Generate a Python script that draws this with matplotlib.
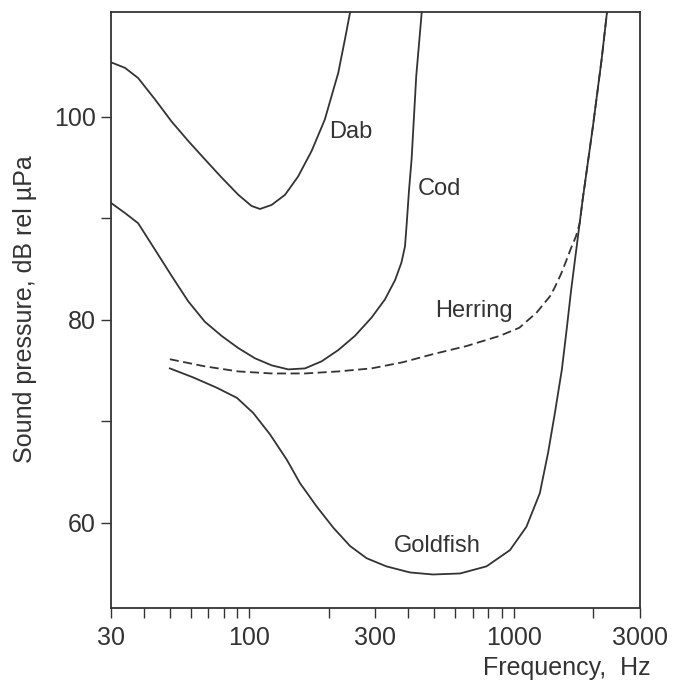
import matplotlib
matplotlib.use("Agg")
import matplotlib.pyplot as plt
from matplotlib.ticker import NullFormatter

plt.rcParams['font.family'] = ['Liberation Sans', 'DejaVu Sans']

# Hoerschwellen (Frequenz in Hz, Schalldruck in dB rel uPa)
dab_f = [30, 33.9, 38.0, 44.0, 50.9, 58.8, 67.9, 78.6, 90.9, 102, 109.8, 121.5,
         136.6, 153, 172, 193, 217, 230, 240.7]
dab_db = [105.35, 104.8, 103.8, 101.7, 99.5, 97.6, 95.8, 94.0, 92.3, 91.2, 90.9, 91.3,
          92.3, 94.1, 96.6, 99.7, 104.3, 107.6, 110.3]

cod_f = [30, 33.9, 38.0, 44.0, 50.9, 58.8, 67.9, 78.6, 90.9, 105, 121.5, 140.5,
         162.6, 187.9, 217, 250.9, 290, 326, 356, 376, 388, 394, 402, 411, 428, 449]
cod_db = [91.5, 90.5, 89.5, 86.9, 84.3, 81.8, 79.8, 78.4, 77.2, 76.2, 75.5, 75.1,
          75.2, 75.9, 77.0, 78.4, 80.2, 82.0, 83.9, 85.6, 87.2, 89.5, 92.8, 95.8, 104.0, 110.3]

goldfish_f = [50.1, 61.5, 75.3, 89.8, 103.6, 119.8, 138.7, 155.5, 179.8, 208, 240.6,
              277.9, 330, 405, 495, 627, 789, 968, 1117, 1255, 1349, 1431, 1521, 1585,
              1650, 1822, 1992, 2149, 2253]
goldfish_db = [75.2, 74.3, 73.3, 72.3, 70.8, 68.7, 66.2, 63.9, 61.6, 59.5, 57.7,
               56.5, 55.7, 55.1, 54.9, 55.0, 55.7, 57.3, 59.6, 62.9, 66.9, 70.8, 75.1, 79.0,
               83.0, 91.8, 99.0, 105.6, 110.3]

herring_f = [50.1, 67.9, 90.9, 121.5, 162.6, 217, 290, 380, 495, 663, 885, 1050,
             1221, 1371, 1431, 1510, 1585, 1650, 1719, 1776, 1822, 1992, 2149, 2253]
herring_db = [76.1, 75.4, 74.9, 74.7, 74.7, 74.9, 75.2, 75.8, 76.6, 77.4, 78.4, 79.2,
              80.7, 82.3, 83.2, 84.5, 85.9, 87.1, 88.2, 89.5, 91.8, 99.0, 105.6, 110.3]

x_major = [30, 100, 300, 1000, 3000]
x_minor = [40, 50, 60, 70, 80, 90, 200, 400, 500, 600, 700, 800, 900, 2000]
y_major = [60, 80, 100]
y_minor = [70, 90]

ink = '#333333'

fig = plt.figure(figsize=(6.75, 6.95), dpi=100)
ax = fig.add_axes([0.1644, 0.1252, 0.948 - 0.1644, 0.9827 - 0.1252])

ax.plot(dab_f, dab_db, color=ink, lw=1.3)
ax.plot(cod_f, cod_db, color=ink, lw=1.3)
ax.plot(goldfish_f, goldfish_db, color=ink, lw=1.3)
ax.plot(herring_f, herring_db, color=ink, lw=1.3, dashes=(5, 2.5))

ax.set_xscale('log')
ax.set_xlim(30, 3000)
ax.set_ylim(51.6, 110.3)

ax.set_xticks(x_major)
ax.set_xticklabels([str(v) for v in x_major])
ax.set_xticks(x_minor, minor=True)
ax.xaxis.set_minor_formatter(NullFormatter())
ax.set_yticks(y_major)
ax.set_yticks(y_minor, minor=True)

ax.tick_params(which='both', direction='out', length=7, width=1, colors=ink,
               labelsize=18, labelcolor=ink)
ax.tick_params(axis='y', pad=4)
ax.tick_params(axis='x', pad=6)

for s in ax.spines.values():
    s.set_color(ink)
    s.set_linewidth(1.3)

# Beschriftung der Kurven
ax.text(242, 97.9, 'Dab', fontsize=17, color=ink, ha='center', va='baseline')
ax.text(525, 92.3, 'Cod', fontsize=17, color=ink, ha='center', va='baseline')
ax.text(705, 80.3, 'Herring', fontsize=17, color=ink, ha='center', va='baseline')
ax.text(513, 57.1, 'Goldfish', fontsize=17, color=ink, ha='center', va='baseline')

fig.text(0.964, 0.022, 'Frequency,  Hz', fontsize=18, color=ink, ha='right', va='bottom')
fig.text(0.037, 0.555, 'Sound pressure, dB rel µPa', fontsize=18, color=ink,
         rotation=90, ha='center', va='center')

fig.savefig('out.png', dpi=100)
